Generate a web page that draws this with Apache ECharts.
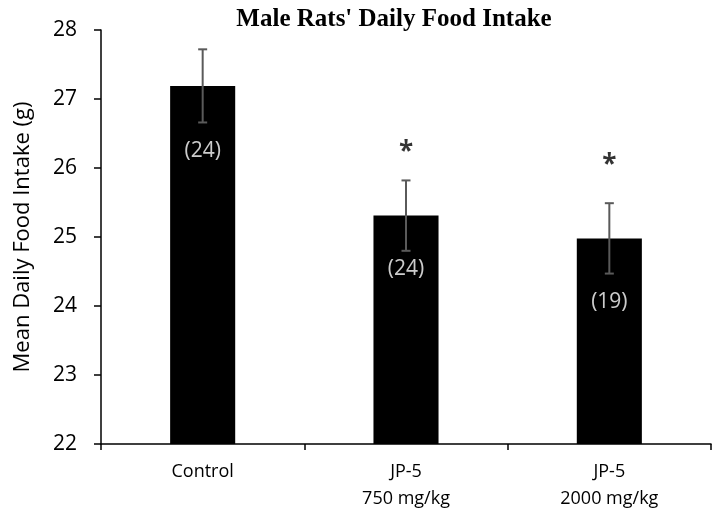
<!DOCTYPE html>
<html>
<head>
<meta charset="utf-8">
<script src="https://cdn.jsdelivr.net/npm/echarts@6/dist/echarts.min.js"></script>
<style>
  html, body { margin: 0; padding: 0; background: #fff; }
  #chart { width: 721px; height: 516px; }
</style>
</head>
<body>
<div id="chart"></div>
<script>
  // values
  var groups = ['Control', 'JP-5\n750 mg/kg', 'JP-5\n2000 mg/kg']
  var meanIntake = [27.19, 25.31, 24.98]
  var errIntake = [0.53, 0.51, 0.51]
  var nRats = ['(24)', '(24)', '(19)']
  var nLabelAt = [26.24, 24.54, 24.06]
  var starMark = ['', '*', '*']
  var starAt = [null, 26.22, 26.03]
  var yTicks = [22, 23, 24, 25, 26, 27, 28]

  var sans = '"Open Sans", sans-serif'

  var chart = echarts.init(document.getElementById('chart'))

  var errData = meanIntake.map(function (m, i) { return [i, m, errIntake[i]] })
  var nData = nRats.map(function (t, i) { return {value: [i, nLabelAt[i]], name: t} })
  var starData = []
  starMark.forEach(function (s, i) {
    if (s) starData.push({value: [i, starAt[i]], name: s})
  })

  chart.setOption({
    animation: false,
    title: {
      text: "Male Rats' Daily Food Intake",
      left: 394,
      textAlign: 'center',
      top: 7,
      padding: 0,
      textStyle: {
        fontFamily: '"Liberation Serif", serif',
        fontWeight: 'bold',
        fontSize: 25,
        color: '#000'
      }
    },
    grid: {left: 101, right: 10, top: 30, bottom: 72, outerBoundsMode: 'none'},
    xAxis: {
      type: 'category',
      data: groups,
      axisLine: {show: true, lineStyle: {color: '#000', width: 1.5}},
      axisTick: {show: true, length: 6, lineStyle: {color: '#000', width: 1.5}},
      axisLabel: {
        margin: 14,
        fontFamily: sans,
        fontSize: 18,
        lineHeight: 27,
        color: '#000'
      }
    },
    yAxis: {
      type: 'value',
      min: yTicks[0],
      max: yTicks[yTicks.length - 1],
      interval: 1,
      name: 'Mean Daily Food Intake (g)',
      nameLocation: 'middle',
      nameGap: 67,
      nameTextStyle: {fontFamily: sans, fontSize: 22, color: '#000'},
      splitLine: {show: false},
      axisLine: {show: true, lineStyle: {color: '#000', width: 1.5}},
      axisTick: {show: true, length: 7, lineStyle: {color: '#000', width: 1.5}},
      axisLabel: {margin: 24, fontFamily: sans, fontSize: 21, color: '#000'}
    },
    series: [
      {
        type: 'bar',
        data: meanIntake,
        barWidth: '32%',
        itemStyle: {color: '#000'}
      },
      {
        type: 'custom',
        data: errData,
        z: 5,
        renderItem: function (params, api) {
          var x = api.value(0)
          var m = api.value(1)
          var e = api.value(2)
          var hi = api.coord([x, m + e])
          var lo = api.coord([x, m - e])
          var style = {stroke: '#5a5a5a', lineWidth: 2}
          var cap = 4.5
          return {
            type: 'group',
            children: [
              {type: 'line', shape: {x1: hi[0], y1: hi[1], x2: lo[0], y2: lo[1]}, style: style},
              {type: 'line', shape: {x1: hi[0] - cap, y1: hi[1], x2: hi[0] + cap, y2: hi[1]}, style: style},
              {type: 'line', shape: {x1: lo[0] - cap, y1: lo[1], x2: lo[0] + cap, y2: lo[1]}, style: style}
            ]
          }
        }
      },
      {
        type: 'scatter',
        data: nData,
        symbolSize: 0,
        z: 6,
        label: {
          show: true,
          position: 'inside',
          formatter: '{b}',
          fontFamily: sans,
          fontSize: 21,
          color: '#fff'
        }
      },
      {
        type: 'scatter',
        data: starData,
        symbolSize: 0,
        z: 6,
        label: {
          show: true,
          position: 'inside',
          formatter: '{b}',
          fontFamily: sans,
          fontWeight: 'bold',
          fontSize: 26,
          color: '#000'
        }
      }
    ]
  })
</script>
</body>
</html>
